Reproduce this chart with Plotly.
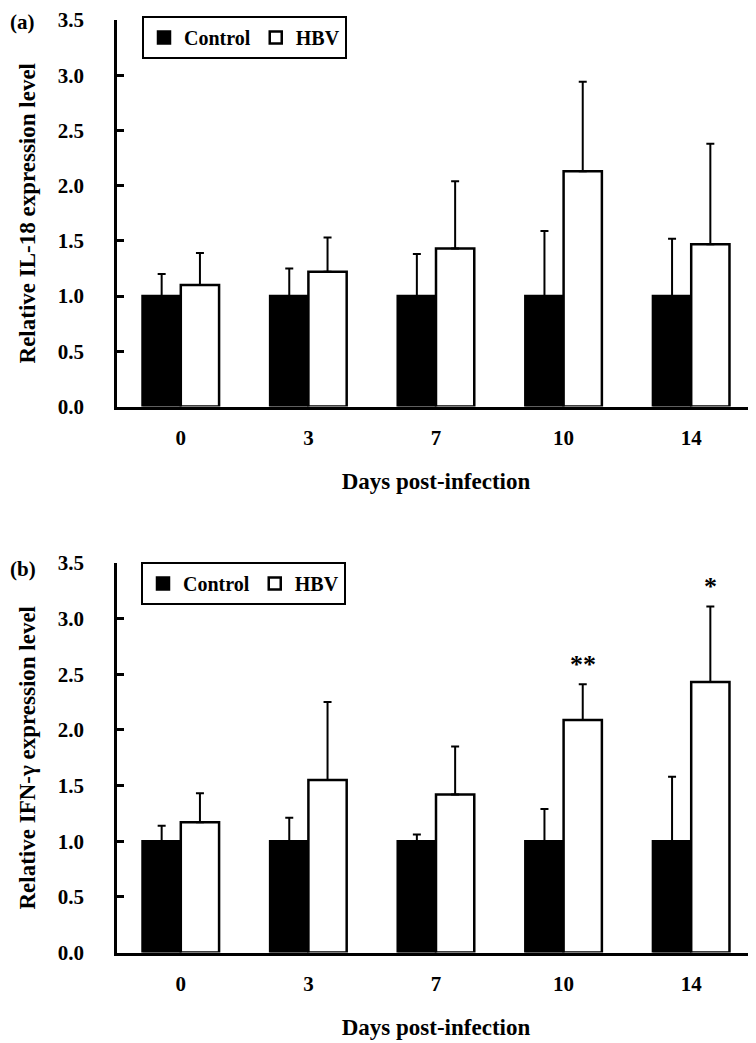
import plotly.graph_objects as go

days = ["0", "3", "7", "10", "14"]

il18_control = [1.0, 1.0, 1.0, 1.0, 1.0]
il18_control_err = [0.20, 0.25, 0.38, 0.59, 0.52]
il18_hbv = [1.10, 1.22, 1.43, 2.13, 1.47]
il18_hbv_err = [0.29, 0.31, 0.61, 0.81, 0.91]

ifng_control = [1.0, 1.0, 1.0, 1.0, 1.0]
ifng_control_err = [0.14, 0.21, 0.06, 0.29, 0.58]
ifng_hbv = [1.17, 1.55, 1.42, 2.09, 2.43]
ifng_hbv_err = [0.26, 0.70, 0.43, 0.32, 0.68]

sig_days = ["10", "14"]
sig_marks = ["**", "*"]

FONT = "Liberation Serif"
OFF = 8                      # page offset of the figure (default body margin)
W, H = 756 - OFF, 1043 - OFF
ML, MR = 117 - OFF, 1
PW = W - ML - MR

fig = go.Figure()


def add_pair(ctrl, ctrl_err, hbv, hbv_err, xa, ya, legend):
    fig.add_trace(go.Bar(
        x=days, y=ctrl, name="Control", xaxis=xa, yaxis=ya, legend=legend,
        marker=dict(color="black", line=dict(color="black", width=2.5)),
        error_y=dict(type="data", array=ctrl_err, arrayminus=[0] * len(ctrl_err),
                     symmetric=False, color="black", thickness=2, width=4),
    ))
    fig.add_trace(go.Bar(
        x=days, y=hbv, name="HBV", xaxis=xa, yaxis=ya, legend=legend,
        marker=dict(color="white", line=dict(color="black", width=2.5)),
        error_y=dict(type="data", array=hbv_err, arrayminus=[0] * len(hbv_err),
                     symmetric=False, color="black", thickness=2, width=4),
    ))


add_pair(il18_control, il18_control_err, il18_hbv, il18_hbv_err, "x", "y", "legend")
add_pair(ifng_control, ifng_control_err, ifng_hbv, ifng_hbv_err, "x2", "y2", "legend2")


def ydom(top_ref, bottom_ref):
    return [(H - (bottom_ref - OFF)) / H, (H - (top_ref - OFF)) / H]


def px_x(x_ref):
    return (x_ref - OFF - ML) / PW


def px_y(y_ref):
    return (H - (y_ref - OFF)) / H


tick_font = dict(family=FONT, size=21, color="black", weight="bold")
xtitle_font = dict(family=FONT, size=23, color="black", weight="bold")
ytitle_font = dict(family=FONT, size=23, color="black", weight="bold")

xcommon = dict(type="category", showgrid=False, showline=True, linecolor="black",
               linewidth=3, ticks="", tickfont=tick_font, ticklabelstandoff=10,
               title=dict(text="Days post-infection", font=xtitle_font, standoff=25),
               domain=[0, 1], automargin=False)
ycommon = dict(range=[0, 3.5], dtick=0.5, tickformat=".1f", showgrid=False,
               showline=True, linecolor="black", linewidth=2.5, ticks="inside",
               ticklen=7, tickwidth=2.5, tickcolor="black", tickfont=tick_font,
               ticklabelstandoff=26, ticklabeloverflow="allow",
               zeroline=False, automargin=False)

legend_common = dict(orientation="h", xanchor="left", yanchor="top",
                     bordercolor="black", borderwidth=2, bgcolor="white",
                     font=dict(family=FONT, size=20, color="black", weight="bold"),
                     itemwidth=30, tracegroupgap=0)

fig.update_layout(
    width=W, height=H,
    paper_bgcolor="white", plot_bgcolor="white",
    margin=dict(l=ML, r=MR, t=0, b=0),
    barmode="group", bargap=0.4, bargroupgap=0,
    font=dict(family=FONT, color="black"),
    xaxis=dict(**xcommon, anchor="y"),
    yaxis=dict(**ycommon, domain=ydom(20, 406.5), anchor="x",
               title=dict(text="Relative IL-18 expression level", font=ytitle_font, standoff=16)),
    xaxis2=dict(**xcommon, anchor="y2"),
    yaxis2=dict(**ycommon, domain=ydom(563, 952.5), anchor="x2",
                title=dict(text="Relative IFN-γ expression level", font=ytitle_font, standoff=16)),
    legend=dict(**legend_common, x=px_x(142), y=px_y(16)),
    legend2=dict(**legend_common, x=px_x(141), y=px_y(562)),
)

for label, ytop in (("(a)", 8), ("(b)", 555)):
    fig.add_annotation(text=label, xref="paper", yref="paper", x=px_x(8), y=px_y(ytop),
                       xanchor="left", yanchor="top", showarrow=False,
                       font=dict(family=FONT, size=21, color="black", weight="bold"))

for d, mark in zip(sig_days, sig_marks):
    i = days.index(d)
    top = ifng_hbv[i] + ifng_hbv_err[i]
    fig.add_annotation(text=mark, x=i, y=top, xref="x2", yref="y2", xshift=19, yshift=3,
                       xanchor="center", yanchor="bottom", showarrow=False,
                       font=dict(family=FONT, size=26, color="black", weight="bold"))

fig.write_html("out.html")
